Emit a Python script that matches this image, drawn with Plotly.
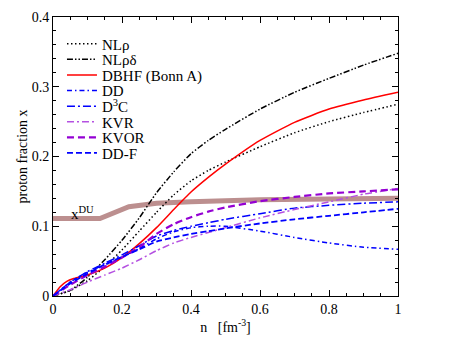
import plotly.graph_objects as go

# density grid n [fm^-3] and proton fractions
n_nl = [0, 0.05, 0.1, 0.15, 0.2, 0.25, 0.3, 0.35, 0.4, 0.45, 0.5, 0.6, 0.7, 0.8, 0.9, 1.0]
x_nlr = [0, 0.008, 0.022, 0.042, 0.066, 0.093, 0.12, 0.145, 0.165, 0.18, 0.192, 0.214, 0.234, 0.25, 0.263, 0.275]
x_nlrd = [0, 0.008, 0.027, 0.052, 0.08, 0.112, 0.148, 0.178, 0.204, 0.223, 0.239, 0.268, 0.292, 0.312, 0.331, 0.348]

n_dbhf = [0, 0.02, 0.04, 0.06, 0.1, 0.15, 0.2, 0.25, 0.3, 0.35, 0.4, 0.45, 0.5, 0.6, 0.7, 0.8, 0.9, 1.0]
x_dbhf = [0, 0.013, 0.021, 0.025, 0.03, 0.04, 0.055, 0.075, 0.098, 0.124, 0.149, 0.17, 0.189, 0.223, 0.249, 0.268, 0.281, 0.292]

n_rmf = [0, 0.05, 0.1, 0.15, 0.2, 0.25, 0.3, 0.35, 0.4, 0.45, 0.5, 0.6, 0.7, 0.8, 0.9, 1.0]
x_dd = [0, 0.02, 0.034, 0.045, 0.056, 0.068, 0.082, 0.092, 0.098, 0.1, 0.1, 0.093, 0.084, 0.076, 0.07, 0.067]
x_d3c = [0, 0.02, 0.035, 0.047, 0.059, 0.072, 0.086, 0.094, 0.1, 0.105, 0.11, 0.118, 0.126, 0.13, 0.133, 0.135]
x_kvr = [0, 0.009, 0.02, 0.03, 0.04, 0.052, 0.065, 0.076, 0.084, 0.091, 0.098, 0.112, 0.124, 0.135, 0.146, 0.154]
x_kvor = [0, 0.016, 0.03, 0.042, 0.055, 0.07, 0.089, 0.103, 0.113, 0.121, 0.127, 0.136, 0.142, 0.147, 0.15, 0.153]
x_ddf = [0, 0.018, 0.032, 0.045, 0.056, 0.067, 0.078, 0.084, 0.089, 0.093, 0.097, 0.104, 0.11, 0.115, 0.12, 0.125]

n_du = [0, 0.136, 0.22, 0.3, 0.4, 0.6, 0.8, 1.0]
x_du = [0.111, 0.111, 0.128, 0.133, 0.135, 0.138, 0.139, 0.14]

FONT = "Liberation Serif, Times New Roman, serif"
BLUE = "rgb(0,0,255)"

# page body has an 8px margin, so the figure is a bit smaller and shifted
W, H = 443, 341
ML, MT, PW, PH = 45, 9, 345, 279

fig = go.Figure()

fig.add_trace(go.Scatter(x=n_du, y=x_du, mode="lines", showlegend=False,
                         line=dict(color="rgb(188,143,143)", width=5)))

series = [
    ("NLρ", n_nl, x_nlr, "black", "1.5px,2.5px", 1.5),
    ("NLρδ", n_nl, x_nlrd, "black", "6px,2px,1.5px,2px,1.5px,2px", 1.5),
    ("DBHF (Bonn A)", n_dbhf, x_dbhf, "rgb(255,0,0)", "solid", 1.5),
    ("DD", n_rmf, x_dd, BLUE, "5px,3px,1.5px,3px", 1.5),
    ("D<sup>3</sup>C", n_rmf, x_d3c, BLUE, "8px,3px,2px,3px", 1.5),
    ("KVR", n_rmf, x_kvr, "rgb(180,80,225)", "7px,3px,2px,3px", 1.5),
    ("KVOR", n_rmf, x_kvor, "rgb(148,0,211)", "7px,4px", 2.2),
    ("DD-F", n_rmf, x_ddf, BLUE, "6px,3px", 1.8),
]
legends = {}
for i, (name, nx, xy, col, dash, w) in enumerate(series):
    lg = "legend" if i == 0 else f"legend{i + 1}"
    fig.add_trace(go.Scatter(x=nx, y=xy, mode="lines", name=name, legend=lg,
                             line=dict(color=col, dash=dash, width=w, shape="spline", smoothing=0.5)))
    py = 27 + 15.6 * i  # item centre, px below the top of the plot area
    legends[lg] = dict(x=0.026, y=(PH - py) / PH, xanchor="left", yanchor="middle",
                       bgcolor="rgba(0,0,0,0)", borderwidth=0,
                       font=dict(family=FONT, size=15, color="black"))

fig.add_annotation(x=0.045, y=0.119, xref="x", yref="y", text="x<sup>DU</sup>",
                   showarrow=False, xanchor="left", yanchor="middle",
                   font=dict(family=FONT, size=15, color="black"))

axis_common = dict(
    showgrid=False, zeroline=False, showline=True, linecolor="black", linewidth=1,
    mirror="ticks", ticks="inside", ticklen=6, tickcolor="black", automargin=False,
    tickfont=dict(family=FONT, size=14, color="black"),
)

fig.update_xaxes(range=[0, 1], tickvals=[0, 0.2, 0.4, 0.6, 0.8, 1],
                 ticktext=["0", "0.2", "0.4", "0.6", "0.8", "1"],
                 minor=dict(dtick=0.05, ticklen=3, ticks="inside", tickcolor="black"),
                 title=dict(text="n\u00a0\u00a0\u00a0[fm<sup>-3</sup>]", standoff=6,
                            font=dict(family=FONT, size=14, color="black")),
                 **axis_common)
fig.update_yaxes(range=[0, 0.4], tickvals=[0, 0.1, 0.2, 0.3, 0.4],
                 ticktext=["0", "0.1", "0.2", "0.3", "0.4"],
                 minor=dict(dtick=0.02, ticklen=3, ticks="inside", tickcolor="black"),
                 title=dict(text="proton fraction x", standoff=0,
                            font=dict(family=FONT, size=14, color="black")),
                 **axis_common)

fig.update_layout(
    width=W, height=H,
    margin=dict(l=ML, r=W - ML - PW, t=MT, b=H - MT - PH),
    plot_bgcolor="white", paper_bgcolor="white",
    **legends,
)

fig.write_html("out.html")
